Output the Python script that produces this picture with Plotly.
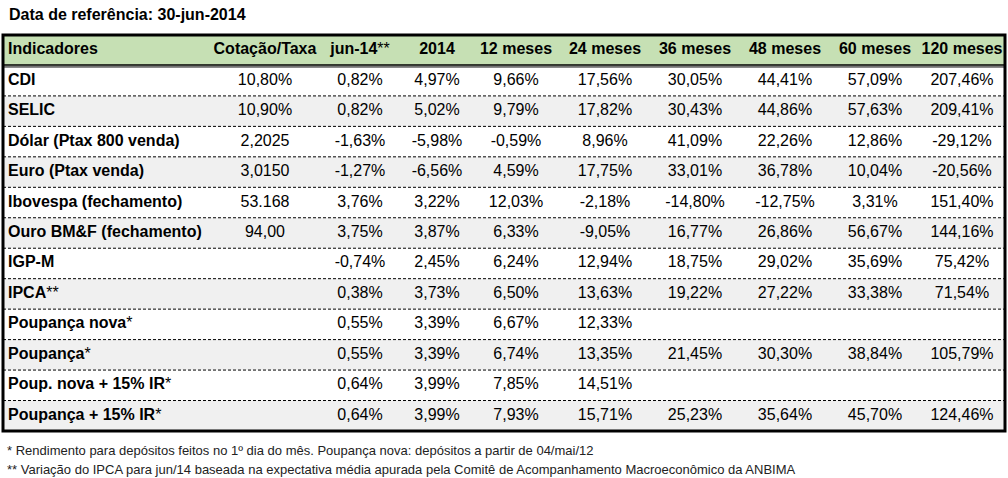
import plotly.graph_objects as go

# dados da tabela (data de referência 30-jun-2014)
titulo = "Data de referência: 30-jun-2014"
cabecalho = ["Indicadores", "Cotação/Taxa", "jun-14**", "2014", "12 meses", "24 meses",
             "36 meses", "48 meses", "60 meses", "120 meses"]

indicadores = ["CDI", "SELIC", "Dólar (Ptax 800 venda)", "Euro (Ptax venda)",
               "Ibovespa (fechamento)", "Ouro BM&F (fechamento)", "IGP-M", "IPCA**",
               "Poupança nova*", "Poupança*", "Poup. nova + 15% IR*", "Poupança + 15% IR*"]
cotacao = ["10,80%", "10,90%", "2,2025", "3,0150", "53.168", "94,00", "", "", "", "", "", ""]
jun14 = [0.82, 0.82, -1.63, -1.27, 3.76, 3.75, -0.74, 0.38, 0.55, 0.55, 0.64, 0.64]
ano2014 = [4.97, 5.02, -5.98, -6.56, 3.22, 3.87, 2.45, 3.73, 3.39, 3.39, 3.99, 3.99]
meses12 = [9.66, 9.79, -0.59, 4.59, 12.03, 6.33, 6.24, 6.50, 6.67, 6.74, 7.85, 7.93]
meses24 = [17.56, 17.82, 8.96, 17.75, -2.18, -9.05, 12.94, 13.63, 12.33, 13.35, 14.51, 15.71]
meses36 = [30.05, 30.43, 41.09, 33.01, -14.80, 16.77, 18.75, 19.22, None, 21.45, None, 25.23]
meses48 = [44.41, 44.86, 22.26, 36.78, -12.75, 26.86, 29.02, 27.22, None, 30.30, None, 35.64]
meses60 = [57.09, 57.63, 12.86, 10.04, 3.31, 56.67, 35.69, 33.38, None, 38.84, None, 45.70]
meses120 = [207.46, 209.41, -29.12, -20.56, 151.40, 144.16, 75.42, 71.54, None, 105.79, None, 124.46]

notas = ["* Rendimento para depósitos feitos no 1º dia do mês. Poupança nova: depósitos a partir de 04/mai/12",
         "** Variação do IPCA para jun/14 baseada na expectativa média apurada pela Comitê de Acompanhamento Macroeconômico da ANBIMA"]

FONT = "Liberation Sans, Arial, sans-serif"
VERDE = "#C6E0B4"
CINZA = "#F0F0F0"


def pct(v):
    # formato brasileiro: 1,23%
    if v is None:
        return ""
    return f"{v:.2f}".replace(".", ",") + "%"


def negrito(s):
    # asteriscos ficam fora do negrito, como no original
    base = s.rstrip("*")
    return f"<b>{base}</b>" + s[len(base):]


# geometria da tabela (em pixels)
left, right = 3, 1005
top, row_h = 35, 30.46
n_rows = len(indicadores) + 1
centros = [top + row_h * (i + 0.5) for i in range(n_rows)]
bottom = top + row_h * n_rows
col_x = [8, 265, 360, 437, 516, 605, 695, 785, 875, 962]

colunas = [cotacao, [pct(v) for v in jun14], [pct(v) for v in ano2014],
           [pct(v) for v in meses12], [pct(v) for v in meses24], [pct(v) for v in meses36],
           [pct(v) for v in meses48], [pct(v) for v in meses60], [pct(v) for v in meses120]]

fig = go.Figure()

# primeira coluna (rótulos)
fig.add_trace(go.Scatter(
    x=[col_x[0]] * n_rows, y=centros,
    text=[negrito(cabecalho[0])] + [negrito(s) for s in indicadores],
    mode="text", textposition="middle right",
    textfont=dict(family=FONT, size=16, color="black"),
    hoverinfo="skip", showlegend=False))

# colunas de valores
for j, vals in enumerate(colunas, start=1):
    fig.add_trace(go.Scatter(
        x=[col_x[j]] * n_rows, y=centros,
        text=[negrito(cabecalho[j])] + vals,
        mode="text", textposition="middle center",
        textfont=dict(family=FONT, size=16, color="black"),
        hoverinfo="skip", showlegend=False))

shapes = []
# fundo do cabeçalho
shapes.append(dict(type="rect", x0=left, x1=right, y0=top, y1=top + row_h,
                   fillcolor=VERDE, line_width=0, layer="below"))
# linhas cinza alternadas
for i in range(1, len(indicadores), 2):
    shapes.append(dict(type="rect", x0=left, x1=right, y0=top + row_h * (i + 1),
                       y1=top + row_h * (i + 2), fillcolor=CINZA, line_width=0, layer="below"))
# linhas tracejadas entre as linhas
for i in range(2, n_rows):
    shapes.append(dict(type="line", x0=left, x1=right, y0=top + row_h * i, y1=top + row_h * i,
                       line=dict(color="black", width=1, dash="3px,2px")))
# linha dupla sob o cabeçalho
shapes.append(dict(type="line", x0=left, x1=right, y0=top + row_h - 0.5, y1=top + row_h - 0.5,
                   line=dict(color="black", width=1.5)))
shapes.append(dict(type="line", x0=left, x1=right, y0=top + row_h + 1.5, y1=top + row_h + 1.5,
                   line=dict(color="black", width=1)))
# borda externa
shapes.append(dict(type="rect", x0=left, x1=right, y0=top, y1=bottom,
                   line=dict(color="black", width=3)))

annotations = [dict(x=7, y=14, text=f"<b>{titulo}</b>", showarrow=False, xanchor="left",
                    yanchor="middle", font=dict(family=FONT, size=16, color="black"))]
for k, nota in enumerate(notas):
    annotations.append(dict(x=5, y=450 + 19 * k, text=nota, showarrow=False, xanchor="left",
                            yanchor="middle", font=dict(family=FONT, size=13, color="#222222")))

fig.update_layout(
    width=1008, height=478,
    margin=dict(l=0, r=0, t=0, b=0),
    paper_bgcolor="white", plot_bgcolor="white",
    xaxis=dict(range=[0, 1008], visible=False, fixedrange=True),
    yaxis=dict(range=[478, 0], visible=False, fixedrange=True),
    shapes=shapes, annotations=annotations,
)

# a página padrão tem margem de 8px no body; zera para caber na janela
fig.write_html("out.html", config={"displayModeBar": False},
               post_script="document.body.style.margin='0';")
